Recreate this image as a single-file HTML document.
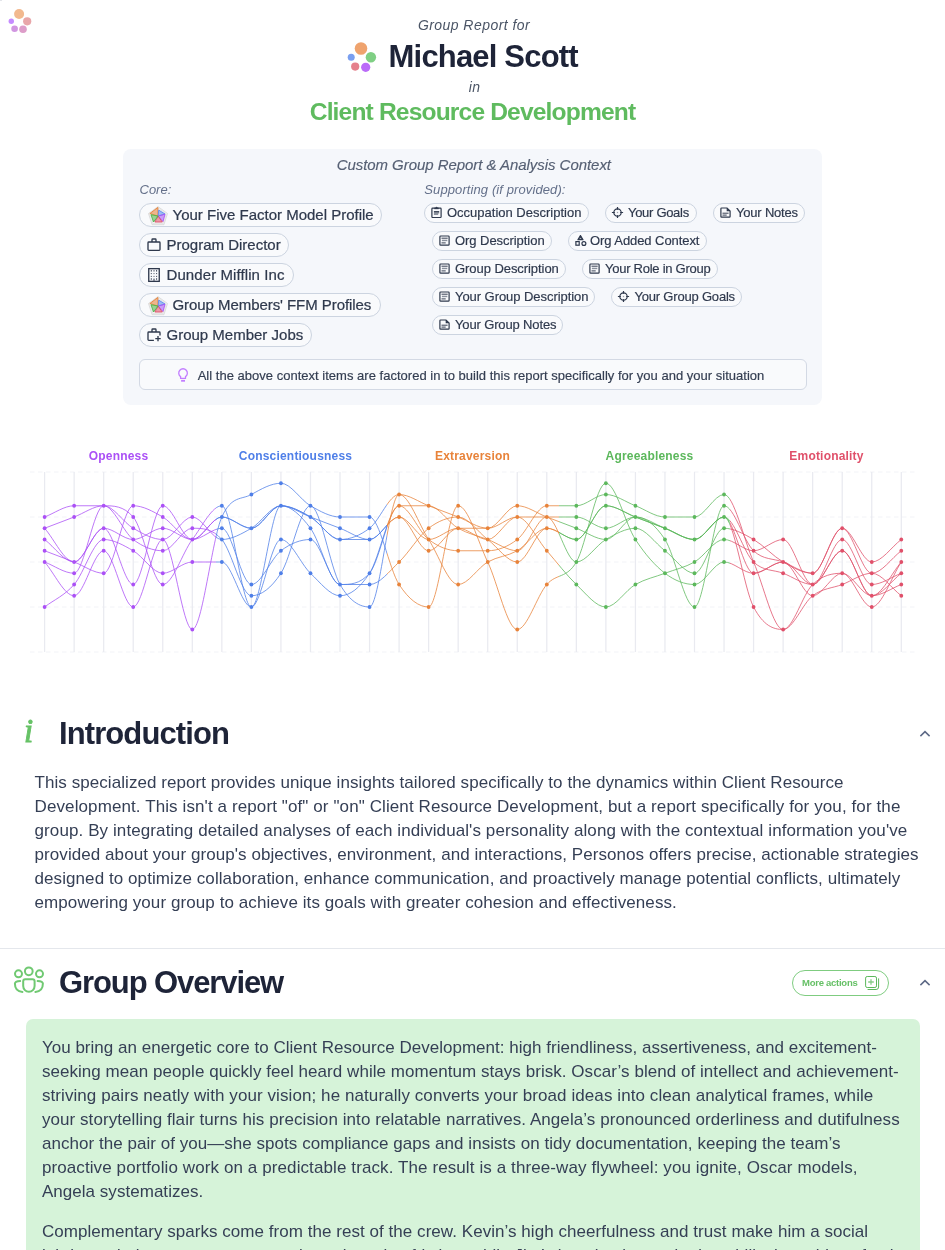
<!DOCTYPE html>
<html lang="en"><head><meta charset="utf-8"><title>Group Report</title>
<style>
*{box-sizing:border-box;margin:0;padding:0}
html,body{width:945px;height:1250px;overflow:hidden;background:#fff}
body{position:relative;font-family:"Liberation Sans",sans-serif;color:#3a4458}
.abs{position:absolute;white-space:nowrap}
.it{font-style:italic;color:#4b5566}
.lab{color:#64708a}
.ctr{text-align:center}
.h1{font-weight:700;font-size:31px;color:#1e2438;line-height:36px}
.ctx{position:absolute;left:123px;top:149px;width:699px;height:256px;background:#f5f7fb;border-radius:8px}
.chip{position:absolute;height:24px;border:1px solid #ccd4e0;border-radius:12px;background:#f9fafc;color:#2f394d;font-size:15px;line-height:22px;white-space:nowrap}
.chip span{position:absolute;top:0;-webkit-text-stroke:0.22px #2f394d}
.chip svg{position:absolute}
.sc{position:absolute;height:20px;border:1px solid #ccd4e0;border-radius:10px;background:#f9fafc;color:#2f394d;font-size:13px;line-height:18px;white-space:nowrap}
.sc span{position:absolute;top:0;left:22px;-webkit-text-stroke:0.18px #2f394d}
.sc svg{position:absolute;left:5.3px;top:2.4px}
.note{position:absolute;left:139px;top:359px;width:668px;height:31px;border:1px solid #d3d9e4;border-radius:6px;background:#f9fafc}
.fl{font-family:"Liberation Sans",sans-serif;font-weight:700;font-size:12px;letter-spacing:0.19px}
.chart{position:absolute;left:0;top:440px}
.para{position:absolute;font-size:17px;line-height:24px;color:#353f55;white-space:nowrap}
.para div{height:24px}
.hr{position:absolute;left:0;top:948px;width:945px;height:1px;background:#e4e7ec}
.gbox{position:absolute;left:26px;top:1019px;width:894px;height:260px;background:#d6f3d9;border-radius:7px}
.btn{position:absolute;left:792px;top:970px;width:97px;height:26px;border:1px solid #7fcc80;border-radius:13px;color:#66c066;font-size:9.5px;font-weight:700;line-height:24px}

#pg{position:absolute;left:0;top:0;width:945px;height:1250px;overflow:hidden;will-change:transform}

</style></head>
<body>
<div id="pg">
<div class="abs tlmark" style="left:0;top:0;width:2px;height:1px;background:#e3e5ea"></div>
<!-- top-left logo -->
<svg class="abs" style="left:0;top:0" width="60" height="45" viewBox="0 0 60 45">
<circle cx="19.1" cy="14" r="5" fill="#f2b98f"/>
<circle cx="27.2" cy="21.3" r="4.1" fill="#e8a6a9"/>
<circle cx="23" cy="29.2" r="3.8" fill="#dd9dc9"/>
<circle cx="14.6" cy="28.7" r="3.3" fill="#d196e1"/>
<circle cx="11.3" cy="21.3" r="2.7" fill="#c58bff"/>
</svg>

<!-- header -->
<div class="abs it ctr" style="left:1.5px;width:945px;top:16px;font-size:14px;line-height:18px;letter-spacing:0.45px">Group Report for</div>
<svg class="abs" style="left:335px;top:35px" width="60" height="45" viewBox="335 35 60 45">
<circle cx="361" cy="48.5" r="6.3" fill="#efa36e"/>
<circle cx="370.9" cy="57.2" r="5.2" fill="#7fcf84"/>
<circle cx="365.7" cy="67.3" r="4.6" fill="#ba6cf8"/>
<circle cx="355.2" cy="66.6" r="4.1" fill="#e5808c"/>
<circle cx="351.2" cy="57.2" r="3.5" fill="#7a9ff0"/>
</svg>
<div class="abs h1" style="left:388.6px;top:39px;letter-spacing:-0.82px">Michael Scott</div>
<div class="abs it ctr" style="left:2px;width:945px;top:78px;font-size:14px;line-height:18px;letter-spacing:0.4px">in</div>
<div class="abs ctr" style="left:0;width:945px;top:97.3px;font-size:24.6px;font-weight:700;color:#5fbb5f;line-height:30px;letter-spacing:-0.85px">Client Resource Development</div>

<!-- context box -->
<div class="ctx"></div>
<div class="abs it ctr" style="left:124.3px;width:699px;top:156px;color:#566074;-webkit-text-stroke:0.15px #566074;font-size:15px;line-height:18px;letter-spacing:-0.05px">Custom Group Report &amp; Analysis Context</div>
<div class="abs it lab" style="left:139.5px;top:181.7px;font-size:13px;line-height:16px">Core:</div>
<div class="abs it lab" style="left:424.3px;top:181.7px;font-size:13px;line-height:16px;letter-spacing:0.1px">Supporting (if provided):</div>
<div class="chip" style="left:139px;top:203px;width:243px"><svg width="20" height="20" viewBox="0 0 20 20" style="left:8px;top:1.6px"><polygon points="10.00,0.60 19.51,7.51 15.88,18.69 4.12,18.69 0.49,7.51" fill="#f3f3f3" stroke="#d6d6d6" stroke-width="0.8"/><polygon points="10.00,2.00 18.18,7.94 15.05,17.56 4.95,17.56 1.82,7.94" fill="none" stroke="#dddddd" stroke-width="0.6"/><polygon points="10.07,10.10 9.90,1.40 1.90,7.50" fill="#e8833a" fill-opacity="0.55" stroke="#e8833a" stroke-width="0.9" stroke-linejoin="round"/><polygon points="10.07,10.10 10.70,4.10 17.00,8.00" fill="#5b8def" fill-opacity="0.55" stroke="#5b8def" stroke-width="0.9" stroke-linejoin="round"/><polygon points="10.07,10.10 17.00,8.20 15.00,15.50" fill="#a855f7" fill-opacity="0.55" stroke="#a855f7" stroke-width="0.9" stroke-linejoin="round"/><polygon points="10.07,10.10 14.30,16.00 6.90,16.00" fill="#e0506a" fill-opacity="0.55" stroke="#e0506a" stroke-width="0.9" stroke-linejoin="round"/><polygon points="10.07,10.10 5.50,16.00 3.00,8.70" fill="#4cb648" fill-opacity="0.55" stroke="#4cb648" stroke-width="0.9" stroke-linejoin="round"/></svg><span style="left:32.5px;letter-spacing:0.0px">Your Five Factor Model Profile</span></div>
<div class="chip" style="left:139px;top:233px;width:150px"><svg width="16" height="16" viewBox="0 0 16 16" style="left:6px;top:2.8px" fill="none" stroke="#2e384c" stroke-width="1.33"><rect x="2" y="5.0" width="12" height="8.33" rx="0.8"/><path d="M6 5.0V2.7q0-.7.7-.7h2.6q.7 0 .7.7v2.3"/></svg><span style="left:26.5px;letter-spacing:0.0px">Program Director</span></div>
<div class="chip" style="left:139px;top:263px;width:155px"><svg width="16" height="16" viewBox="0 0 16 16" style="left:6px;top:3.05px"><rect x="2.75" y="1.65" width="10.5" height="12.7" fill="none" stroke="#2e384c" stroke-width="1.33"/><rect x="4.80" y="3.05" width="1.0" height="1.5" fill="#2e384c" fill-opacity="0.95"/><rect x="7.30" y="3.05" width="1.4" height="1.5" fill="#2e384c" fill-opacity="0.60"/><rect x="10.10" y="3.05" width="1.0" height="1.5" fill="#2e384c" fill-opacity="0.95"/><rect x="4.80" y="6.10" width="1.0" height="1.0" fill="#2e384c" fill-opacity="0.95"/><rect x="7.30" y="6.10" width="1.4" height="1.0" fill="#2e384c" fill-opacity="0.60"/><rect x="10.10" y="6.10" width="1.0" height="1.0" fill="#2e384c" fill-opacity="0.95"/><rect x="4.80" y="8.90" width="1.0" height="1.0" fill="#2e384c" fill-opacity="0.95"/><rect x="7.30" y="8.90" width="1.4" height="1.0" fill="#2e384c" fill-opacity="0.60"/><rect x="10.10" y="8.90" width="1.0" height="1.0" fill="#2e384c" fill-opacity="0.95"/><rect x="4.80" y="11.25" width="1.0" height="1.5" fill="#2e384c" fill-opacity="0.95"/><rect x="10.10" y="11.25" width="1.0" height="1.5" fill="#2e384c" fill-opacity="0.95"/><rect x="7.3" y="11.6" width="1.4" height="2.2" fill="#2e384c" fill-opacity="0.75"/></svg><span style="left:26.5px;letter-spacing:0.09px">Dunder Mifflin Inc</span></div>
<div class="chip" style="left:139px;top:293px;width:242px"><svg width="20" height="20" viewBox="0 0 20 20" style="left:8px;top:1.6px"><polygon points="10.00,0.60 19.51,7.51 15.88,18.69 4.12,18.69 0.49,7.51" fill="#f3f3f3" stroke="#d6d6d6" stroke-width="0.8"/><polygon points="10.00,2.00 18.18,7.94 15.05,17.56 4.95,17.56 1.82,7.94" fill="none" stroke="#dddddd" stroke-width="0.6"/><polygon points="10.07,10.10 9.90,1.40 1.90,7.50" fill="#e8833a" fill-opacity="0.55" stroke="#e8833a" stroke-width="0.9" stroke-linejoin="round"/><polygon points="10.07,10.10 10.70,4.10 17.00,8.00" fill="#5b8def" fill-opacity="0.55" stroke="#5b8def" stroke-width="0.9" stroke-linejoin="round"/><polygon points="10.07,10.10 17.00,8.20 15.00,15.50" fill="#a855f7" fill-opacity="0.55" stroke="#a855f7" stroke-width="0.9" stroke-linejoin="round"/><polygon points="10.07,10.10 14.30,16.00 6.90,16.00" fill="#e0506a" fill-opacity="0.55" stroke="#e0506a" stroke-width="0.9" stroke-linejoin="round"/><polygon points="10.07,10.10 5.50,16.00 3.00,8.70" fill="#4cb648" fill-opacity="0.55" stroke="#4cb648" stroke-width="0.9" stroke-linejoin="round"/></svg><span style="left:32.5px;letter-spacing:-0.06px">Group Members' FFM Profiles</span></div>
<div class="chip" style="left:139px;top:323px;width:173px"><svg width="16" height="16" viewBox="0 0 16 16" style="left:6px;top:2.8px" fill="none" stroke="#2e384c" stroke-width="1.33"><path d="M7.9 13.33H2.8q-.8 0-.8-.8V5.8q0-.8.8-.8h10.4q.8 0 .8.8V8.4"/><path d="M6 5.0V2.7q0-.7.7-.7h2.6q.7 0 .7.7v2.3"/><path d="M12 8.9v5.4M9.3 11.6h5.4"/></svg><span style="left:26.5px;letter-spacing:0.0px">Group Member Jobs</span></div>
<div class="sc" style="left:424px;top:203px;width:165px"><svg width="13" height="13" viewBox="0 0 13 13" fill="none" stroke="#2e384c" stroke-width="1.2"><rect x="1.9" y="2.2" width="9.2" height="9.3" rx="0.7"/><path d="M4.3 2.4h4.4" stroke-width="1.5"/><path d="M5.6 1.9l.9-.9.9.9z" fill="#2e384c" stroke-width="0.6"/><path d="M3.9 5.5h5.3M3.9 6.8h5.3M3.9 8.1h4.3" stroke-width="0.9"/></svg><span style="left:22px;letter-spacing:0px">Occupation Description</span></div>
<div class="sc" style="left:605px;top:203px;width:92px"><svg width="13" height="13" viewBox="0 0 13 13" fill="none" stroke="#2e384c" stroke-width="1.2"><circle cx="6.5" cy="6.5" r="3.7"/><path d="M6.5 0.9v2.9M6.5 9.2v2.9M0.9 6.5h2.9M9.2 6.5h2.9" stroke-width="1.2"/><rect x="5.9" y="5.9" width="1.2" height="1.2" fill="#2e384c" fill-opacity="0.45" stroke="none"/></svg><span style="left:22px;letter-spacing:-0.3px">Your Goals</span></div>
<div class="sc" style="left:713px;top:203px;width:92px"><svg width="13" height="13" viewBox="0 0 13 13" fill="none" stroke="#2e384c" stroke-width="1.2"><path d="M2.6 2.0h5.4l3.1 3.1v5.4q0 .7-.7.7H2.6q-.7 0-.7-.7V2.7q0-.7.7-.7z"/><path d="M7.7 2.1v3.2h3.2z" fill="#2e384c" stroke="none"/><path d="M3.9 7.2h5.3M3.9 9.1h3.4" stroke-width="0.95" stroke-linecap="round"/></svg><span style="left:22px;letter-spacing:-0.2px">Your Notes</span></div>
<div class="sc" style="left:432px;top:231px;width:120px"><svg width="13" height="13" viewBox="0 0 13 13" fill="none" stroke="#2e384c" stroke-width="1.2"><rect x="1.9" y="2.0" width="9.2" height="9.2" rx="0.8"/><path d="M3.9 4.2h5.4M3.9 8.9h3.4" stroke-width="0.95" stroke-linecap="round"/><path d="M3.9 6.45h5.4" stroke-width="1.4" stroke-opacity="0.55"/></svg><span style="left:22px;letter-spacing:-0.05px">Org Description</span></div>
<div class="sc" style="left:568px;top:231px;width:139px"><svg width="13" height="13" viewBox="0 0 13 13" fill="none" stroke="#2e384c" stroke-width="1.2"><path d="M6.45 1.6L9.0 5.7H3.9z" fill="#2e384c" stroke-linejoin="round"/><path d="M5.7 4.4h1.5" stroke="#f9fafc" stroke-width="0.7"/><rect x="1.9" y="7.6" width="3.3" height="3.6"/><circle cx="9.9" cy="9.5" r="1.95"/></svg><span style="left:21px;letter-spacing:-0.07px">Org Added Context</span></div>
<div class="sc" style="left:432px;top:259px;width:134px"><svg width="13" height="13" viewBox="0 0 13 13" fill="none" stroke="#2e384c" stroke-width="1.2"><rect x="1.9" y="2.0" width="9.2" height="9.2" rx="0.8"/><path d="M3.9 4.2h5.4M3.9 8.9h3.4" stroke-width="0.95" stroke-linecap="round"/><path d="M3.9 6.45h5.4" stroke-width="1.4" stroke-opacity="0.55"/></svg><span style="left:22px;letter-spacing:-0.06px">Group Description</span></div>
<div class="sc" style="left:582px;top:259px;width:136px"><svg width="13" height="13" viewBox="0 0 13 13" fill="none" stroke="#2e384c" stroke-width="1.2"><rect x="1.9" y="2.0" width="9.2" height="9.2" rx="0.8"/><path d="M3.9 4.2h5.4M3.9 8.9h3.4" stroke-width="0.95" stroke-linecap="round"/><path d="M3.9 6.45h5.4" stroke-width="1.4" stroke-opacity="0.55"/></svg><span style="left:22px;letter-spacing:-0.26px">Your Role in Group</span></div>
<div class="sc" style="left:432px;top:287px;width:163px"><svg width="13" height="13" viewBox="0 0 13 13" fill="none" stroke="#2e384c" stroke-width="1.2"><rect x="1.9" y="2.0" width="9.2" height="9.2" rx="0.8"/><path d="M3.9 4.2h5.4M3.9 8.9h3.4" stroke-width="0.95" stroke-linecap="round"/><path d="M3.9 6.45h5.4" stroke-width="1.4" stroke-opacity="0.55"/></svg><span style="left:22px;letter-spacing:-0.055px">Your Group Description</span></div>
<div class="sc" style="left:611px;top:287px;width:131px"><svg width="13" height="13" viewBox="0 0 13 13" fill="none" stroke="#2e384c" stroke-width="1.2"><circle cx="6.5" cy="6.5" r="3.7"/><path d="M6.5 0.9v2.9M6.5 9.2v2.9M0.9 6.5h2.9M9.2 6.5h2.9" stroke-width="1.2"/><rect x="5.9" y="5.9" width="1.2" height="1.2" fill="#2e384c" fill-opacity="0.45" stroke="none"/></svg><span style="left:22.4px;letter-spacing:-0.19px">Your Group Goals</span></div>
<div class="sc" style="left:432px;top:315px;width:131px"><svg width="13" height="13" viewBox="0 0 13 13" fill="none" stroke="#2e384c" stroke-width="1.2"><path d="M2.6 2.0h5.4l3.1 3.1v5.4q0 .7-.7.7H2.6q-.7 0-.7-.7V2.7q0-.7.7-.7z"/><path d="M7.7 2.1v3.2h3.2z" fill="#2e384c" stroke="none"/><path d="M3.9 7.2h5.3M3.9 9.1h3.4" stroke-width="0.95" stroke-linecap="round"/></svg><span style="left:22px;letter-spacing:-0.14px">Your Group Notes</span></div>
<div class="note"></div>
<svg class="abs" style="left:176px;top:367px" width="14" height="16" viewBox="0 0 14 16" fill="none" stroke="#c27dff" stroke-width="1.3"><path d="M4.6 11.4V9.6A4.3 4.3 0 1 1 9.5 9.6v1.8z" stroke-linejoin="round"/><path d="M5.1 13.8h3.9" stroke-width="1.8"/></svg><div class="abs" style="left:197.7px;top:367.9px;font-size:13px;line-height:16px;letter-spacing:0.015px;color:#343e52;-webkit-text-stroke:0.18px #343e52">All the above context items are factored in to build this report specifically for you and your situation</div>

<svg class="chart" width="945" height="230" viewBox="0 440 945 230">
<defs><linearGradient id="lg" gradientUnits="userSpaceOnUse" x1="44.60" y1="0" x2="901.29" y2="0">
<stop offset="0.0" stop-color="#ab50f6"/><stop offset="0.2" stop-color="#ab50f6"/>
<stop offset="0.2" stop-color="#4f7fe8"/><stop offset="0.4" stop-color="#4f7fe8"/>
<stop offset="0.4" stop-color="#e8833a"/><stop offset="0.6" stop-color="#e8833a"/>
<stop offset="0.6" stop-color="#5cb85c"/><stop offset="0.8" stop-color="#5cb85c"/>
<stop offset="0.8" stop-color="#e0506a"/><stop offset="1.0" stop-color="#e0506a"/>
</linearGradient></defs>
<g stroke="#f2f3f7" stroke-width="1" stroke-dasharray="4.5 3.5">
<line x1="30" x2="915" y1="652.00" y2="652.00"/>
<line x1="30" x2="915" y1="607.00" y2="607.00"/>
<line x1="30" x2="915" y1="562.00" y2="562.00"/>
<line x1="30" x2="915" y1="517.00" y2="517.00"/>
<line x1="30" x2="915" y1="472.00" y2="472.00"/>
</g>
<g stroke="#e9eaf0" stroke-width="1.25">
<line x1="44.60" x2="44.60" y1="472" y2="652"/>
<line x1="74.14" x2="74.14" y1="472" y2="652"/>
<line x1="103.68" x2="103.68" y1="472" y2="652"/>
<line x1="133.22" x2="133.22" y1="472" y2="652"/>
<line x1="162.76" x2="162.76" y1="472" y2="652"/>
<line x1="192.31" x2="192.31" y1="472" y2="652"/>
<line x1="221.85" x2="221.85" y1="472" y2="652"/>
<line x1="251.39" x2="251.39" y1="472" y2="652"/>
<line x1="280.93" x2="280.93" y1="472" y2="652"/>
<line x1="310.47" x2="310.47" y1="472" y2="652"/>
<line x1="340.01" x2="340.01" y1="472" y2="652"/>
<line x1="369.55" x2="369.55" y1="472" y2="652"/>
<line x1="399.09" x2="399.09" y1="472" y2="652"/>
<line x1="428.63" x2="428.63" y1="472" y2="652"/>
<line x1="458.17" x2="458.17" y1="472" y2="652"/>
<line x1="487.72" x2="487.72" y1="472" y2="652"/>
<line x1="517.26" x2="517.26" y1="472" y2="652"/>
<line x1="546.80" x2="546.80" y1="472" y2="652"/>
<line x1="576.34" x2="576.34" y1="472" y2="652"/>
<line x1="605.88" x2="605.88" y1="472" y2="652"/>
<line x1="635.42" x2="635.42" y1="472" y2="652"/>
<line x1="664.96" x2="664.96" y1="472" y2="652"/>
<line x1="694.50" x2="694.50" y1="472" y2="652"/>
<line x1="724.04" x2="724.04" y1="472" y2="652"/>
<line x1="753.58" x2="753.58" y1="472" y2="652"/>
<line x1="783.12" x2="783.12" y1="472" y2="652"/>
<line x1="812.67" x2="812.67" y1="472" y2="652"/>
<line x1="842.21" x2="842.21" y1="472" y2="652"/>
<line x1="871.75" x2="871.75" y1="472" y2="652"/>
<line x1="901.29" x2="901.29" y1="472" y2="652"/>
</g>
<g fill="none" stroke="url(#lg)" stroke-width="0.95" stroke-opacity="0.82">
<path d="M44.60 517.00C54.45 513.25 64.29 505.75 74.14 505.75C83.99 505.75 93.84 505.75 103.68 505.75C113.53 505.75 123.38 505.75 133.22 517.00C143.07 528.25 152.92 584.50 162.76 584.50C172.61 584.50 182.46 552.62 192.31 539.50C202.15 526.38 212.00 505.75 221.85 505.75C231.69 505.75 241.54 607.00 251.39 607.00C261.23 607.00 271.08 505.75 280.93 505.75C290.78 505.75 300.62 513.25 310.47 517.00C320.32 520.75 330.16 524.50 340.01 528.25C349.86 532.00 359.70 539.50 369.55 539.50C379.40 539.50 389.25 517.00 399.09 517.00C408.94 517.00 418.79 539.50 428.63 539.50C438.48 539.50 448.33 528.25 458.17 528.25C468.02 528.25 477.87 528.25 487.72 528.25C497.56 528.25 507.41 505.75 517.26 505.75C527.10 505.75 536.95 513.25 546.80 517.00C556.64 520.75 566.49 524.50 576.34 528.25C586.19 532.00 596.03 539.50 605.88 539.50C615.73 539.50 625.57 517.00 635.42 517.00C645.27 517.00 655.11 524.50 664.96 539.50C674.81 554.50 684.66 607.00 694.50 607.00C704.35 607.00 714.20 505.75 724.04 505.75C733.89 505.75 743.74 541.38 753.58 550.75C763.43 560.12 773.28 558.25 783.12 562.00C792.97 565.75 802.82 573.25 812.67 573.25C822.51 573.25 832.36 528.25 842.21 528.25C852.05 528.25 861.90 562.00 871.75 562.00C881.60 562.00 891.44 547.00 901.29 539.50"/>
<path d="M44.60 528.25C54.45 524.50 64.29 520.75 74.14 517.00C83.99 513.25 93.84 505.75 103.68 505.75C113.53 505.75 123.38 522.62 133.22 528.25C143.07 533.88 152.92 539.50 162.76 539.50C172.61 539.50 182.46 517.00 192.31 517.00C202.15 517.00 212.00 539.50 221.85 539.50C231.69 539.50 241.54 533.88 251.39 528.25C261.23 522.62 271.08 505.75 280.93 505.75C290.78 505.75 300.62 511.38 310.47 517.00C320.32 522.62 330.16 539.50 340.01 539.50C349.86 539.50 359.70 535.75 369.55 528.25C379.40 520.75 389.25 494.50 399.09 494.50C408.94 494.50 418.79 502.00 428.63 505.75C438.48 509.50 448.33 513.25 458.17 517.00C468.02 520.75 477.87 528.25 487.72 528.25C497.56 528.25 507.41 517.00 517.26 517.00C527.10 517.00 536.95 517.00 546.80 517.00C556.64 517.00 566.49 517.00 576.34 517.00C586.19 517.00 596.03 528.25 605.88 528.25C615.73 528.25 625.57 517.00 635.42 517.00C645.27 517.00 655.11 524.50 664.96 528.25C674.81 532.00 684.66 539.50 694.50 539.50C704.35 539.50 714.20 517.00 724.04 517.00C733.89 517.00 743.74 552.62 753.58 562.00C763.43 571.38 773.28 569.50 783.12 573.25C792.97 577.00 802.82 584.50 812.67 584.50C822.51 584.50 832.36 539.50 842.21 539.50C852.05 539.50 861.90 584.50 871.75 584.50C881.60 584.50 891.44 577.00 901.29 573.25"/>
<path d="M44.60 528.25C54.45 539.50 64.29 562.00 74.14 562.00C83.99 562.00 93.84 528.25 103.68 528.25C113.53 528.25 123.38 539.50 133.22 539.50C143.07 539.50 152.92 528.25 162.76 528.25C172.61 528.25 182.46 539.50 192.31 539.50C202.15 539.50 212.00 517.00 221.85 517.00C231.69 517.00 241.54 528.25 251.39 528.25C261.23 528.25 271.08 505.75 280.93 505.75C290.78 505.75 300.62 511.38 310.47 517.00C320.32 522.62 330.16 539.50 340.01 539.50C349.86 539.50 359.70 539.50 369.55 539.50C379.40 539.50 389.25 517.00 399.09 517.00C408.94 517.00 418.79 550.75 428.63 550.75C438.48 550.75 448.33 528.25 458.17 528.25C468.02 528.25 477.87 539.50 487.72 539.50C497.56 539.50 507.41 517.00 517.26 517.00C527.10 517.00 536.95 539.50 546.80 550.75C556.64 562.00 566.49 575.12 576.34 584.50C586.19 593.88 596.03 607.00 605.88 607.00C615.73 607.00 625.57 590.12 635.42 584.50C645.27 578.88 655.11 577.00 664.96 573.25C674.81 569.50 684.66 567.62 694.50 562.00C704.35 556.38 714.20 539.50 724.04 539.50C733.89 539.50 743.74 550.75 753.58 550.75C763.43 550.75 773.28 539.50 783.12 539.50C792.97 539.50 802.82 584.50 812.67 584.50C822.51 584.50 832.36 550.75 842.21 550.75C852.05 550.75 861.90 595.75 871.75 595.75C881.60 595.75 891.44 573.25 901.29 562.00"/>
<path d="M44.60 539.50C54.45 547.00 64.29 562.00 74.14 562.00C83.99 562.00 93.84 528.25 103.68 528.25C113.53 528.25 123.38 584.50 133.22 584.50C143.07 584.50 152.92 505.75 162.76 505.75C172.61 505.75 182.46 539.50 192.31 539.50C202.15 539.50 212.00 517.00 221.85 517.00C231.69 517.00 241.54 528.25 251.39 528.25C261.23 528.25 271.08 505.75 280.93 505.75C290.78 505.75 300.62 515.12 310.47 528.25C320.32 541.38 330.16 584.50 340.01 584.50C349.86 584.50 359.70 584.50 369.55 573.25C379.40 562.00 389.25 505.75 399.09 505.75C408.94 505.75 418.79 505.75 428.63 505.75C438.48 505.75 448.33 522.62 458.17 528.25C468.02 533.88 477.87 535.75 487.72 539.50C497.56 543.25 507.41 550.75 517.26 550.75C527.10 550.75 536.95 517.00 546.80 517.00C556.64 517.00 566.49 562.00 576.34 562.00C586.19 562.00 596.03 545.12 605.88 539.50C615.73 533.88 625.57 528.25 635.42 528.25C645.27 528.25 655.11 543.25 664.96 550.75C674.81 558.25 684.66 573.25 694.50 573.25C704.35 573.25 714.20 528.25 724.04 528.25C733.89 528.25 743.74 533.88 753.58 539.50C763.43 545.12 773.28 556.38 783.12 562.00C792.97 567.62 802.82 573.25 812.67 573.25C822.51 573.25 832.36 528.25 842.21 528.25C852.05 528.25 861.90 573.25 871.75 573.25C881.60 573.25 891.44 558.25 901.29 550.75"/>
<path d="M44.60 550.75C54.45 554.50 64.29 558.25 74.14 562.00C83.99 565.75 93.84 573.25 103.68 573.25C113.53 573.25 123.38 505.75 133.22 505.75C143.07 505.75 152.92 511.38 162.76 517.00C172.61 522.62 182.46 539.50 192.31 539.50C202.15 539.50 212.00 528.25 221.85 528.25C231.69 528.25 241.54 584.50 251.39 584.50C261.23 584.50 271.08 558.25 280.93 550.75C290.78 543.25 300.62 539.50 310.47 539.50C320.32 539.50 330.16 584.50 340.01 584.50C349.86 584.50 359.70 584.50 369.55 584.50C379.40 584.50 389.25 571.38 399.09 562.00C408.94 552.62 418.79 535.75 428.63 528.25C438.48 520.75 448.33 517.00 458.17 517.00C468.02 517.00 477.87 532.00 487.72 539.50C497.56 547.00 507.41 562.00 517.26 562.00C527.10 562.00 536.95 528.25 546.80 528.25C556.64 528.25 566.49 539.50 576.34 539.50C586.19 539.50 596.03 505.75 605.88 505.75C615.73 505.75 625.57 513.25 635.42 517.00C645.27 520.75 655.11 524.50 664.96 528.25C674.81 532.00 684.66 539.50 694.50 539.50C704.35 539.50 714.20 517.00 724.04 517.00C733.89 517.00 743.74 573.25 753.58 573.25C763.43 573.25 773.28 562.00 783.12 562.00C792.97 562.00 802.82 584.50 812.67 584.50C822.51 584.50 832.36 550.75 842.21 550.75C852.05 550.75 861.90 595.75 871.75 595.75C881.60 595.75 891.44 580.75 901.29 573.25"/>
<path d="M44.60 562.00C54.45 565.75 64.29 573.25 74.14 573.25C83.99 573.25 93.84 505.75 103.68 505.75C113.53 505.75 123.38 532.00 133.22 539.50C143.07 547.00 152.92 550.75 162.76 550.75C172.61 550.75 182.46 528.25 192.31 528.25C202.15 528.25 212.00 528.25 221.85 539.50C231.69 550.75 241.54 595.75 251.39 595.75C261.23 595.75 271.08 588.25 280.93 573.25C290.78 558.25 300.62 505.75 310.47 505.75C320.32 505.75 330.16 567.62 340.01 584.50C349.86 601.38 359.70 607.00 369.55 607.00C379.40 607.00 389.25 494.50 399.09 494.50C408.94 494.50 418.79 524.50 428.63 539.50C438.48 554.50 448.33 584.50 458.17 584.50C468.02 584.50 477.87 567.62 487.72 562.00C497.56 556.38 507.41 556.38 517.26 550.75C527.10 545.12 536.95 528.25 546.80 528.25C556.64 528.25 566.49 539.50 576.34 539.50C586.19 539.50 596.03 505.75 605.88 505.75C615.73 505.75 625.57 513.25 635.42 517.00C645.27 520.75 655.11 524.50 664.96 528.25C674.81 532.00 684.66 539.50 694.50 539.50C704.35 539.50 714.20 517.00 724.04 517.00C733.89 517.00 743.74 588.25 753.58 607.00C763.43 625.75 773.28 629.50 783.12 629.50C792.97 629.50 802.82 593.88 812.67 584.50C822.51 575.12 832.36 573.25 842.21 573.25C852.05 573.25 861.90 595.75 871.75 595.75C881.60 595.75 891.44 588.25 901.29 584.50"/>
<path d="M44.60 562.00C54.45 573.25 64.29 595.75 74.14 595.75C83.99 595.75 93.84 550.75 103.68 550.75C113.53 550.75 123.38 607.00 133.22 607.00C143.07 607.00 152.92 539.50 162.76 539.50C172.61 539.50 182.46 629.50 192.31 629.50C202.15 629.50 212.00 538.83 221.85 517.00C231.69 495.17 241.54 499.96 251.39 494.50C261.23 489.04 271.08 483.25 280.93 483.25C290.78 483.25 300.62 500.12 310.47 505.75C320.32 511.38 330.16 517.00 340.01 517.00C349.86 517.00 359.70 517.00 369.55 517.00C379.40 517.00 389.25 569.50 399.09 584.50C408.94 599.50 418.79 607.00 428.63 607.00C438.48 607.00 448.33 505.75 458.17 505.75C468.02 505.75 477.87 541.38 487.72 562.00C497.56 582.62 507.41 629.50 517.26 629.50C527.10 629.50 536.95 595.75 546.80 584.50C556.64 573.25 566.49 578.88 576.34 562.00C586.19 545.12 596.03 483.25 605.88 483.25C615.73 483.25 625.57 524.50 635.42 539.50C645.27 554.50 655.11 565.75 664.96 573.25C674.81 580.75 684.66 584.50 694.50 584.50C704.35 584.50 714.20 562.00 724.04 562.00C733.89 562.00 743.74 573.25 753.58 573.25C763.43 573.25 773.28 562.00 783.12 562.00C792.97 562.00 802.82 595.75 812.67 595.75C822.51 595.75 832.36 573.25 842.21 573.25C852.05 573.25 861.90 607.00 871.75 607.00C881.60 607.00 891.44 577.00 901.29 562.00"/>
<path d="M44.60 607.00C54.45 599.50 64.29 595.75 74.14 584.50C83.99 573.25 93.84 539.50 103.68 539.50C113.53 539.50 123.38 545.12 133.22 550.75C143.07 556.38 152.92 573.25 162.76 573.25C172.61 573.25 182.46 562.00 192.31 562.00C202.15 562.00 212.00 562.00 221.85 562.00C231.69 562.00 241.54 607.00 251.39 607.00C261.23 607.00 271.08 539.50 280.93 539.50C290.78 539.50 300.62 563.88 310.47 573.25C320.32 582.62 330.16 595.75 340.01 595.75C349.86 595.75 359.70 588.25 369.55 573.25C379.40 558.25 389.25 505.75 399.09 505.75C408.94 505.75 418.79 532.00 428.63 539.50C438.48 547.00 448.33 550.75 458.17 550.75C468.02 550.75 477.87 550.75 487.72 550.75C497.56 550.75 507.41 547.00 517.26 539.50C527.10 532.00 536.95 505.75 546.80 505.75C556.64 505.75 566.49 505.75 576.34 505.75C586.19 505.75 596.03 494.50 605.88 494.50C615.73 494.50 625.57 502.00 635.42 505.75C645.27 509.50 655.11 517.00 664.96 517.00C674.81 517.00 684.66 517.00 694.50 517.00C704.35 517.00 714.20 494.50 724.04 494.50C733.89 494.50 743.74 539.50 753.58 562.00C763.43 584.50 773.28 629.50 783.12 629.50C792.97 629.50 802.82 603.25 812.67 595.75C822.51 588.25 832.36 588.25 842.21 584.50C852.05 580.75 861.90 573.25 871.75 573.25C881.60 573.25 891.44 588.25 901.29 595.75"/>
</g>
<circle cx="44.60" cy="517.00" r="1.9" fill="#ab50f6"/>
<circle cx="74.14" cy="505.75" r="1.9" fill="#ab50f6"/>
<circle cx="103.68" cy="505.75" r="1.9" fill="#ab50f6"/>
<circle cx="133.22" cy="517.00" r="1.9" fill="#ab50f6"/>
<circle cx="162.76" cy="584.50" r="1.9" fill="#ab50f6"/>
<circle cx="192.31" cy="539.50" r="1.9" fill="#ab50f6"/>
<circle cx="221.85" cy="505.75" r="1.9" fill="#4f7fe8"/>
<circle cx="251.39" cy="607.00" r="1.9" fill="#4f7fe8"/>
<circle cx="280.93" cy="505.75" r="1.9" fill="#4f7fe8"/>
<circle cx="310.47" cy="517.00" r="1.9" fill="#4f7fe8"/>
<circle cx="340.01" cy="528.25" r="1.9" fill="#4f7fe8"/>
<circle cx="369.55" cy="539.50" r="1.9" fill="#4f7fe8"/>
<circle cx="399.09" cy="517.00" r="1.9" fill="#e8833a"/>
<circle cx="428.63" cy="539.50" r="1.9" fill="#e8833a"/>
<circle cx="458.17" cy="528.25" r="1.9" fill="#e8833a"/>
<circle cx="487.72" cy="528.25" r="1.9" fill="#e8833a"/>
<circle cx="517.26" cy="505.75" r="1.9" fill="#e8833a"/>
<circle cx="546.80" cy="517.00" r="1.9" fill="#e8833a"/>
<circle cx="576.34" cy="528.25" r="1.9" fill="#5cb85c"/>
<circle cx="605.88" cy="539.50" r="1.9" fill="#5cb85c"/>
<circle cx="635.42" cy="517.00" r="1.9" fill="#5cb85c"/>
<circle cx="664.96" cy="539.50" r="1.9" fill="#5cb85c"/>
<circle cx="694.50" cy="607.00" r="1.9" fill="#5cb85c"/>
<circle cx="724.04" cy="505.75" r="1.9" fill="#5cb85c"/>
<circle cx="753.58" cy="550.75" r="1.9" fill="#e0506a"/>
<circle cx="783.12" cy="562.00" r="1.9" fill="#e0506a"/>
<circle cx="812.67" cy="573.25" r="1.9" fill="#e0506a"/>
<circle cx="842.21" cy="528.25" r="1.9" fill="#e0506a"/>
<circle cx="871.75" cy="562.00" r="1.9" fill="#e0506a"/>
<circle cx="901.29" cy="539.50" r="1.9" fill="#e0506a"/>
<circle cx="44.60" cy="528.25" r="1.9" fill="#ab50f6"/>
<circle cx="74.14" cy="517.00" r="1.9" fill="#ab50f6"/>
<circle cx="133.22" cy="528.25" r="1.9" fill="#ab50f6"/>
<circle cx="162.76" cy="539.50" r="1.9" fill="#ab50f6"/>
<circle cx="192.31" cy="517.00" r="1.9" fill="#ab50f6"/>
<circle cx="221.85" cy="539.50" r="1.9" fill="#4f7fe8"/>
<circle cx="251.39" cy="528.25" r="1.9" fill="#4f7fe8"/>
<circle cx="340.01" cy="539.50" r="1.9" fill="#4f7fe8"/>
<circle cx="369.55" cy="528.25" r="1.9" fill="#4f7fe8"/>
<circle cx="399.09" cy="494.50" r="1.9" fill="#e8833a"/>
<circle cx="428.63" cy="505.75" r="1.9" fill="#e8833a"/>
<circle cx="458.17" cy="517.00" r="1.9" fill="#e8833a"/>
<circle cx="517.26" cy="517.00" r="1.9" fill="#e8833a"/>
<circle cx="576.34" cy="517.00" r="1.9" fill="#5cb85c"/>
<circle cx="605.88" cy="528.25" r="1.9" fill="#5cb85c"/>
<circle cx="664.96" cy="528.25" r="1.9" fill="#5cb85c"/>
<circle cx="694.50" cy="539.50" r="1.9" fill="#5cb85c"/>
<circle cx="724.04" cy="517.00" r="1.9" fill="#5cb85c"/>
<circle cx="753.58" cy="562.00" r="1.9" fill="#e0506a"/>
<circle cx="783.12" cy="573.25" r="1.9" fill="#e0506a"/>
<circle cx="812.67" cy="584.50" r="1.9" fill="#e0506a"/>
<circle cx="842.21" cy="539.50" r="1.9" fill="#e0506a"/>
<circle cx="871.75" cy="584.50" r="1.9" fill="#e0506a"/>
<circle cx="901.29" cy="573.25" r="1.9" fill="#e0506a"/>
<circle cx="74.14" cy="562.00" r="1.9" fill="#ab50f6"/>
<circle cx="103.68" cy="528.25" r="1.9" fill="#ab50f6"/>
<circle cx="133.22" cy="539.50" r="1.9" fill="#ab50f6"/>
<circle cx="162.76" cy="528.25" r="1.9" fill="#ab50f6"/>
<circle cx="221.85" cy="517.00" r="1.9" fill="#4f7fe8"/>
<circle cx="428.63" cy="550.75" r="1.9" fill="#e8833a"/>
<circle cx="487.72" cy="539.50" r="1.9" fill="#e8833a"/>
<circle cx="546.80" cy="550.75" r="1.9" fill="#e8833a"/>
<circle cx="576.34" cy="584.50" r="1.9" fill="#5cb85c"/>
<circle cx="605.88" cy="607.00" r="1.9" fill="#5cb85c"/>
<circle cx="635.42" cy="584.50" r="1.9" fill="#5cb85c"/>
<circle cx="664.96" cy="573.25" r="1.9" fill="#5cb85c"/>
<circle cx="694.50" cy="562.00" r="1.9" fill="#5cb85c"/>
<circle cx="724.04" cy="539.50" r="1.9" fill="#5cb85c"/>
<circle cx="783.12" cy="539.50" r="1.9" fill="#e0506a"/>
<circle cx="842.21" cy="550.75" r="1.9" fill="#e0506a"/>
<circle cx="871.75" cy="595.75" r="1.9" fill="#e0506a"/>
<circle cx="901.29" cy="562.00" r="1.9" fill="#e0506a"/>
<circle cx="44.60" cy="539.50" r="1.9" fill="#ab50f6"/>
<circle cx="133.22" cy="584.50" r="1.9" fill="#ab50f6"/>
<circle cx="162.76" cy="505.75" r="1.9" fill="#ab50f6"/>
<circle cx="310.47" cy="528.25" r="1.9" fill="#4f7fe8"/>
<circle cx="340.01" cy="584.50" r="1.9" fill="#4f7fe8"/>
<circle cx="369.55" cy="573.25" r="1.9" fill="#4f7fe8"/>
<circle cx="399.09" cy="505.75" r="1.9" fill="#e8833a"/>
<circle cx="517.26" cy="550.75" r="1.9" fill="#e8833a"/>
<circle cx="576.34" cy="562.00" r="1.9" fill="#5cb85c"/>
<circle cx="635.42" cy="528.25" r="1.9" fill="#5cb85c"/>
<circle cx="664.96" cy="550.75" r="1.9" fill="#5cb85c"/>
<circle cx="694.50" cy="573.25" r="1.9" fill="#5cb85c"/>
<circle cx="724.04" cy="528.25" r="1.9" fill="#5cb85c"/>
<circle cx="753.58" cy="539.50" r="1.9" fill="#e0506a"/>
<circle cx="871.75" cy="573.25" r="1.9" fill="#e0506a"/>
<circle cx="901.29" cy="550.75" r="1.9" fill="#e0506a"/>
<circle cx="44.60" cy="550.75" r="1.9" fill="#ab50f6"/>
<circle cx="103.68" cy="573.25" r="1.9" fill="#ab50f6"/>
<circle cx="133.22" cy="505.75" r="1.9" fill="#ab50f6"/>
<circle cx="162.76" cy="517.00" r="1.9" fill="#ab50f6"/>
<circle cx="221.85" cy="528.25" r="1.9" fill="#4f7fe8"/>
<circle cx="251.39" cy="584.50" r="1.9" fill="#4f7fe8"/>
<circle cx="280.93" cy="550.75" r="1.9" fill="#4f7fe8"/>
<circle cx="310.47" cy="539.50" r="1.9" fill="#4f7fe8"/>
<circle cx="369.55" cy="584.50" r="1.9" fill="#4f7fe8"/>
<circle cx="399.09" cy="562.00" r="1.9" fill="#e8833a"/>
<circle cx="428.63" cy="528.25" r="1.9" fill="#e8833a"/>
<circle cx="517.26" cy="562.00" r="1.9" fill="#e8833a"/>
<circle cx="546.80" cy="528.25" r="1.9" fill="#e8833a"/>
<circle cx="576.34" cy="539.50" r="1.9" fill="#5cb85c"/>
<circle cx="605.88" cy="505.75" r="1.9" fill="#5cb85c"/>
<circle cx="753.58" cy="573.25" r="1.9" fill="#e0506a"/>
<circle cx="44.60" cy="562.00" r="1.9" fill="#ab50f6"/>
<circle cx="74.14" cy="573.25" r="1.9" fill="#ab50f6"/>
<circle cx="162.76" cy="550.75" r="1.9" fill="#ab50f6"/>
<circle cx="192.31" cy="528.25" r="1.9" fill="#ab50f6"/>
<circle cx="251.39" cy="595.75" r="1.9" fill="#4f7fe8"/>
<circle cx="280.93" cy="573.25" r="1.9" fill="#4f7fe8"/>
<circle cx="310.47" cy="505.75" r="1.9" fill="#4f7fe8"/>
<circle cx="369.55" cy="607.00" r="1.9" fill="#4f7fe8"/>
<circle cx="458.17" cy="584.50" r="1.9" fill="#e8833a"/>
<circle cx="487.72" cy="562.00" r="1.9" fill="#e8833a"/>
<circle cx="753.58" cy="607.00" r="1.9" fill="#e0506a"/>
<circle cx="783.12" cy="629.50" r="1.9" fill="#e0506a"/>
<circle cx="842.21" cy="573.25" r="1.9" fill="#e0506a"/>
<circle cx="901.29" cy="584.50" r="1.9" fill="#e0506a"/>
<circle cx="74.14" cy="595.75" r="1.9" fill="#ab50f6"/>
<circle cx="103.68" cy="550.75" r="1.9" fill="#ab50f6"/>
<circle cx="133.22" cy="607.00" r="1.9" fill="#ab50f6"/>
<circle cx="192.31" cy="629.50" r="1.9" fill="#ab50f6"/>
<circle cx="251.39" cy="494.50" r="1.9" fill="#4f7fe8"/>
<circle cx="280.93" cy="483.25" r="1.9" fill="#4f7fe8"/>
<circle cx="340.01" cy="517.00" r="1.9" fill="#4f7fe8"/>
<circle cx="369.55" cy="517.00" r="1.9" fill="#4f7fe8"/>
<circle cx="399.09" cy="584.50" r="1.9" fill="#e8833a"/>
<circle cx="428.63" cy="607.00" r="1.9" fill="#e8833a"/>
<circle cx="458.17" cy="505.75" r="1.9" fill="#e8833a"/>
<circle cx="517.26" cy="629.50" r="1.9" fill="#e8833a"/>
<circle cx="546.80" cy="584.50" r="1.9" fill="#e8833a"/>
<circle cx="605.88" cy="483.25" r="1.9" fill="#5cb85c"/>
<circle cx="635.42" cy="539.50" r="1.9" fill="#5cb85c"/>
<circle cx="694.50" cy="584.50" r="1.9" fill="#5cb85c"/>
<circle cx="724.04" cy="562.00" r="1.9" fill="#5cb85c"/>
<circle cx="812.67" cy="595.75" r="1.9" fill="#e0506a"/>
<circle cx="871.75" cy="607.00" r="1.9" fill="#e0506a"/>
<circle cx="44.60" cy="607.00" r="1.9" fill="#ab50f6"/>
<circle cx="74.14" cy="584.50" r="1.9" fill="#ab50f6"/>
<circle cx="103.68" cy="539.50" r="1.9" fill="#ab50f6"/>
<circle cx="133.22" cy="550.75" r="1.9" fill="#ab50f6"/>
<circle cx="162.76" cy="573.25" r="1.9" fill="#ab50f6"/>
<circle cx="192.31" cy="562.00" r="1.9" fill="#ab50f6"/>
<circle cx="221.85" cy="562.00" r="1.9" fill="#4f7fe8"/>
<circle cx="280.93" cy="539.50" r="1.9" fill="#4f7fe8"/>
<circle cx="310.47" cy="573.25" r="1.9" fill="#4f7fe8"/>
<circle cx="340.01" cy="595.75" r="1.9" fill="#4f7fe8"/>
<circle cx="458.17" cy="550.75" r="1.9" fill="#e8833a"/>
<circle cx="487.72" cy="550.75" r="1.9" fill="#e8833a"/>
<circle cx="517.26" cy="539.50" r="1.9" fill="#e8833a"/>
<circle cx="546.80" cy="505.75" r="1.9" fill="#e8833a"/>
<circle cx="576.34" cy="505.75" r="1.9" fill="#5cb85c"/>
<circle cx="605.88" cy="494.50" r="1.9" fill="#5cb85c"/>
<circle cx="635.42" cy="505.75" r="1.9" fill="#5cb85c"/>
<circle cx="664.96" cy="517.00" r="1.9" fill="#5cb85c"/>
<circle cx="694.50" cy="517.00" r="1.9" fill="#5cb85c"/>
<circle cx="724.04" cy="494.50" r="1.9" fill="#5cb85c"/>
<circle cx="842.21" cy="584.50" r="1.9" fill="#e0506a"/>
<circle cx="901.29" cy="595.75" r="1.9" fill="#e0506a"/>
<text x="118.5" y="459.5" text-anchor="middle" fill="#ab50f6" class="fl">Openness</text>
<text x="295.5" y="459.5" text-anchor="middle" fill="#4f7fe8" class="fl">Conscientiousness</text>
<text x="472.5" y="459.5" text-anchor="middle" fill="#e8833a" class="fl">Extraversion</text>
<text x="649.5" y="459.5" text-anchor="middle" fill="#5cb85c" class="fl">Agreeableness</text>
<text x="826.5" y="459.5" text-anchor="middle" fill="#e0506a" class="fl">Emotionality</text>
</svg>

<!-- Introduction -->
<div class="abs" style="left:24.0px;top:711.2px;font-family:'Liberation Serif',serif;font-style:italic;font-weight:400;font-size:33px;line-height:40px;color:#66c266;-webkit-text-stroke:0.9px #66c266">i</div>
<div class="abs h1" style="left:59px;top:716px;letter-spacing:-0.9px">Introduction</div>
<svg class="abs" style="left:915px;top:724px" width="20" height="20" viewBox="0 0 20 20" fill="none" stroke="#5d6986" stroke-width="1.5"><path d="M5.4 12.1L10 7.6l4.6 4.5"/></svg>
<div class="para" style="left:34.55px;top:771px">
<div style="letter-spacing:0.063px">This specialized report provides unique insights tailored specifically to the dynamics within Client Resource</div>
<div style="letter-spacing:0.103px">Development. This isn't a report "of" or "on" Client Resource Development, but a report specifically for you, for the</div>
<div style="letter-spacing:0.095px">group. By integrating detailed analyses of each individual's personality along with the contextual information you've</div>
<div style="letter-spacing:0.068px">provided about your group's objectives, environment, and interactions, Personos offers precise, actionable strategies</div>
<div style="letter-spacing:0.076px">designed to optimize collaboration, enhance communication, and proactively manage potential conflicts, ultimately</div>
<div style="letter-spacing:0.080px">empowering your group to achieve its goals with greater cohesion and effectiveness.</div>
</div>

<div class="hr"></div>

<!-- Group Overview -->
<svg class="abs" style="left:8px;top:958px" width="48" height="42" viewBox="8 958 48 42" fill="none" stroke="#70c972" stroke-width="2" stroke-linecap="round" stroke-linejoin="round">
<circle cx="28.8" cy="971.3" r="3.85"/>
<circle cx="18.5" cy="973.85" r="3.5"/>
<circle cx="39.5" cy="973.85" r="3.5"/>
<path d="M25.2 979.2h7.4q2 0 2 2v4.9a5.7 5.7 0 0 1-11.4 0v-4.9q0-2 2-2z"/>
<path d="M20.2 981q-5.2 .3-5.3 2.600c0 4.600 2.500 8 7.500 8.300"/>
<path d="M37.6 981q5.200 .3 5.300 2.600c0 4.600-2.500 8-7.500 8.300"/>
</svg>
<div class="abs h1" style="left:59px;top:965px;letter-spacing:-1.1px">Group Overview</div>
<div class="btn"><span style="position:absolute;left:9px;top:0;letter-spacing:-0.26px">More actions</span>
<svg style="position:absolute;left:71.3px;top:4px" width="16" height="16" viewBox="864 975 16 16" fill="none" stroke="#5cb85c" stroke-width="1"><rect x="865.6" y="976.5" width="10.9" height="11" rx="1.6"/><path d="M871 979.2v5.600M868.200 982h5.600" stroke-opacity="0.75" stroke-width="1.3"/><path d="M878.600 978.800v8.200q0 2.500-2.500 2.500h-8.100" stroke-linecap="round"/></svg></div>
<svg class="abs" style="left:915.2px;top:972.5px" width="20" height="20" viewBox="0 0 20 20" fill="none" stroke="#5d6986" stroke-width="1.5"><path d="M5.4 12.1L10 7.6l4.6 4.5"/></svg>
<div class="gbox"></div>
<div class="para" style="left:41.9px;top:1036px">
<div style="letter-spacing:0.020px">You bring an energetic core to Client Resource Development: high friendliness, assertiveness, and excitement-</div>
<div style="letter-spacing:0.047px">seeking mean people quickly feel heard while momentum stays brisk. Oscar’s blend of intellect and achievement-</div>
<div style="letter-spacing:0.083px">striving pairs neatly with your vision; he naturally converts your broad ideas into clean analytical frames, while</div>
<div style="letter-spacing:0.073px">your storytelling flair turns his precision into relatable narratives. Angela’s pronounced orderliness and dutifulness</div>
<div style="letter-spacing:0.041px">anchor the pair of you—she spots compliance gaps and insists on tidy documentation, keeping the team’s</div>
<div style="letter-spacing:0.100px">proactive portfolio work on a predictable track. The result is a three-way flywheel: you ignite, Oscar models,</div>
<div style="letter-spacing:0.038px">Angela systematizes.</div>
<div style="height:16px"></div>
<div style="letter-spacing:0.043px">Complementary sparks come from the rest of the crew. Kevin’s high cheerfulness and trust make him a social</div>
<div style="letter-spacing:0.030px">lubricant during tense strategy reviews, lowering friction, while Jim’s imagination and adaptability keep ideas fresh</div>
</div>



</div>
</body></html>
